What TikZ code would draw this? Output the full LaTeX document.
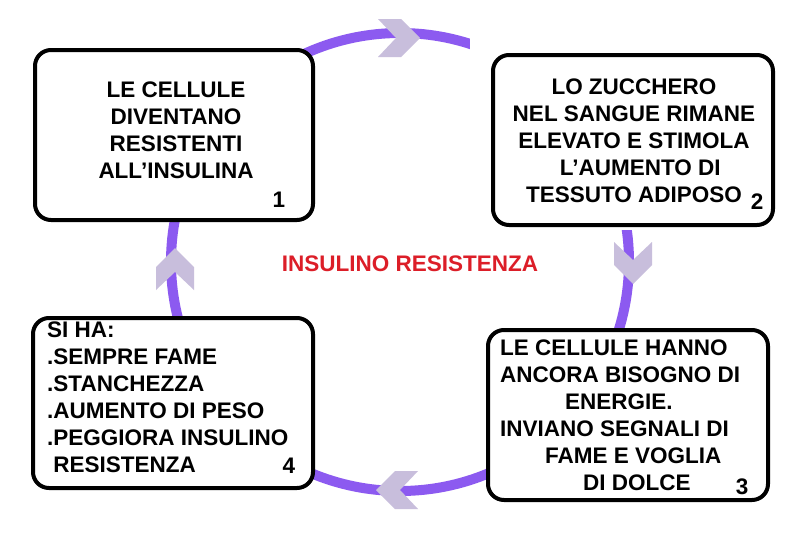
\documentclass[tikz,border=0pt]{standalone}
\usepackage{fontspec}
\setmainfont{Liberation Sans}
\begin{document}
\begin{tikzpicture}[x=1pt,y=-1pt,
  bx/.style={draw=black,line width=4pt,rounded corners=16pt,fill=white},
  wb/.style={fill=white,draw=none},
  txt/.style={font=\fontsize{22.5}{27}\selectfont\bfseries,align=center,inner sep=0pt},
  chev/.style={fill=chevc,draw=none}]
\definecolor{ringc}{RGB}{140,90,240}
\definecolor{chevc}{RGB}{200,190,220}
\definecolor{titc}{RGB}{220,30,40}
\useasboundingbox (0,0) rectangle (798,536);
\fill[white] (0,0) rectangle (798,536);
\draw[ringc,line width=10pt] (400,262) circle (229);
% white background
\fill[wb] (470,18) rectangle (768,230);
% boxes
\node[bx,minimum width=278pt,minimum height=170pt] (b1) at (174,135) {};
\node[bx,minimum width=280pt,minimum height=170pt] (b2) at (633,140) {};
\node[bx,minimum width=280pt,minimum height=170pt] (b3) at (628,415) {};
\node[bx,minimum width=280pt,minimum height=170pt] (b4) at (173,403) {};
\node[txt] at (176,130) {LE CELLULE\\DIVENTANO\\RESISTENTI\\ALL'INSULINA};
\node[txt] at (279,200) {1};
\node[txt] at (634,141) {LO ZUCCHERO\\NEL SANGUE RIMANE\\ELEVATO E STIMOLA\\\ \ L'AUMENTO DI\\TESSUTO ADIPOSO};
\node[txt] at (757,202) {2};
\node[txt,align=left,anchor=north west] at (500,340) {LE CELLULE HANNO\\ANCORA BISOGNO DI\\\hspace*{65pt}ENERGIE.\\INVIANO SEGNALI DI\\\hspace*{45pt}FAME E VOGLIA\\\hspace*{83pt}DI DOLCE};
\node[txt] at (742,487) {3};
\node[txt,align=left,anchor=north west] at (47,322) {SI HA:\\.SEMPRE FAME\\.STANCHEZZA\\.AUMENTO DI PESO\\.PEGGIORA INSULINO\\\ RESISTENZA};
\node[txt] at (289,466) {4};
\node[txt,text=titc] (t) at (410,264) {INSULINO RESISTENZA};
% chevrons
\foreach \p/\r in {{(398,38)}/0,{(633,262)}/270,{(398,490)}/180,{(175,270)}/90}{
  \fill[chev,shift={\p},rotate=\r] (-20,-19) -- (3,-19) -- (22,0) -- (3,19) -- (-20,19) -- (-2,0) -- cycle;}
\end{tikzpicture}
\end{document}
